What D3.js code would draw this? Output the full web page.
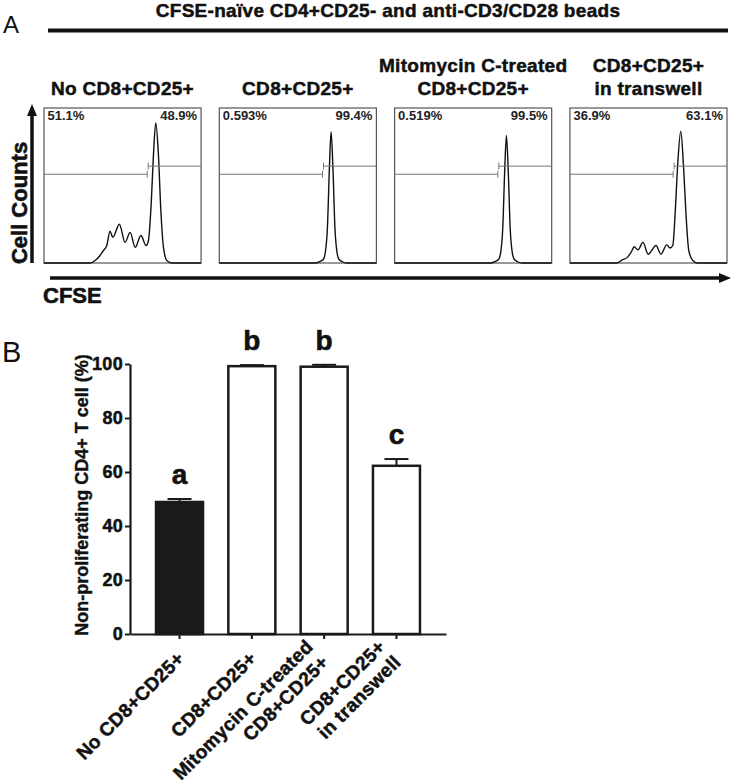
<!DOCTYPE html>
<html>
<head>
<meta charset="utf-8">
<script src="https://cdn.jsdelivr.net/npm/d3@7"></script>
<style>
  html, body { margin: 0; padding: 0; background: #fff; }
  svg { display: block; font-family: "Liberation Sans", Arial, Helvetica, sans-serif; }
</style>
</head>
<body>
<svg id="chart" width="732" height="783"></svg>
<script>
// ---------------- DATA ----------------
const mainTitle = "CFSE-naïve CD4+CD25- and anti-CD3/CD28 beads";
const panelTitles = [["No CD8+CD25+"], ["CD8+CD25+"], ["Mitomycin C-treated", "CD8+CD25+"], ["CD8+CD25+", "in transwell"]];
const leftPct = ["51.1%", "0.593%", "0.519%", "36.9%"];
const rightPct = ["48.9%", "99.4%", "99.5%", "63.1%"];

// CFSE histograms (channel 0-1023, cell counts)
const hist1Channel = [0, 300, 333, 365, 387, 409, 430, 448, 491, 528, 561, 594, 631, 665, 680, 698, 713, 728, 745, 761, 778, 800, 833, 1023];
const hist1Count   = [0, 0, 4, 12, 20, 28, 51, 41, 62, 33, 49, 25, 44, 28, 36, 94, 174, 224, 174, 84, 25, 4, 0, 0];
const hist2Channel = [0, 626, 652, 678, 691, 704, 717, 728, 740, 753, 766, 779, 802, 828, 1023];
const hist2Count   = [0, 0, 2, 6, 18, 56, 152, 210, 152, 56, 18, 6, 2, 0, 0];
const hist3Channel = [0, 626, 652, 678, 691, 704, 717, 728, 740, 753, 766, 779, 802, 828, 1023];
const hist3Count   = [0, 0, 2, 6, 17, 54, 148, 204, 148, 54, 17, 6, 2, 0, 0];
const hist4Channel = [0, 304, 341, 374, 398, 419, 443, 476, 509, 561, 593, 630, 652, 670, 685, 702, 722, 739, 756, 774, 800, 830, 1023];
const hist4Count   = [0, 0, 5, 9, 17, 26, 21, 33, 14, 28, 14, 29, 24, 28, 78, 158, 211, 158, 78, 20, 4, 0, 0];
const gateChannel = 672;
const gateLeftCount = 142;
const gateRightCount = 155;

// Bar chart
const barCategories = [["No CD8+CD25+"], ["CD8+CD25+"], ["Mitomycin C-treated", "CD8+CD25+"], ["CD8+CD25+", "in transwell"]];
const barValues = [48.9, 99.2, 99.0, 62.3];
const barErrors = [1.1, 0.4, 0.7, 2.5];
const barLetters = ["a", "b", "b", "c"];
const barFills = ["#1a1a1a", "#ffffff", "#ffffff", "#ffffff"];
const yTicks = [0, 20, 40, 60, 80, 100];
const yLabel = "Non-proliferating CD4+ T cell (%)";

// ---------------- DRAW ----------------
const svg = d3.select("#chart");
const FONT = "'Liberation Sans', Arial, Helvetica, sans-serif";
const INK = "#111";
function heavy(sel, w) {
  return sel.attr("stroke", INK).attr("stroke-width", w).attr("stroke-linejoin", "round").attr("paint-order", "stroke");
}

// Panel A header
svg.append("text").attr("x", 3).attr("y", 33).style("font-size", "24px").attr("fill", INK).text("A");
heavy(svg.append("text").attr("x", 388).attr("y", 17).attr("text-anchor", "middle")
  .style("font-size", "19px").style("font-weight", "bold").attr("letter-spacing", 0.3).attr("fill", INK).text(mainTitle), 0.5);
svg.append("line").attr("x1", 48).attr("x2", 728).attr("y1", 30.5).attr("y2", 30.5)
  .attr("stroke", INK).attr("stroke-width", 4);

// Histogram panels
const hists = [
  {ch: hist1Channel, ct: hist1Count},
  {ch: hist2Channel, ct: hist2Count},
  {ch: hist3Channel, ct: hist3Count},
  {ch: hist4Channel, ct: hist4Count}
];
const panelBand = d3.scaleBand().domain(d3.range(4)).range([44, 727]).paddingInner(0.104).paddingOuter(0);
const pTop = 108, pBottom = 263;
const pw = panelBand.bandwidth();
const xCh = d3.scaleLinear().domain([0, 1023]).range([0, pw]);
const yCt = d3.scaleLinear().domain([0, 248]).range([pBottom - pTop, 0]);

hists.forEach((h, i) => {
  const g = svg.append("g").attr("transform", `translate(${panelBand(i)},${pTop})`);
  g.append("rect").attr("x", 0).attr("y", 0).attr("width", pw).attr("height", pBottom - pTop)
    .attr("fill", "none").attr("stroke", "#555").attr("stroke-width", 1.2);
  const pts = h.ch.map((c, k) => [c, h.ct[k]]);
  const line = d3.line().x(d => xCh(d[0])).y(d => yCt(d[1])).curve(d3.curveMonotoneX);
  g.append("path").attr("d", line(pts)).attr("fill", "none").attr("stroke", INK).attr("stroke-width", 1.4);
  // gates
  const gx = xCh(gateChannel);
  const yl = yCt(gateLeftCount), yr = yCt(gateRightCount);
  g.append("line").attr("x1", 0).attr("x2", gx).attr("y1", yl).attr("y2", yl).attr("stroke", "#777").attr("stroke-width", 1);
  g.append("line").attr("x1", gx).attr("x2", gx).attr("y1", yl - 3.5).attr("y2", yl + 3.5).attr("stroke", "#777").attr("stroke-width", 1);
  g.append("line").attr("x1", gx + 1).attr("x2", pw).attr("y1", yr).attr("y2", yr).attr("stroke", "#777").attr("stroke-width", 1);
  g.append("line").attr("x1", gx + 1).attr("x2", gx + 1).attr("y1", yr - 3.5).attr("y2", yr + 3.5).attr("stroke", "#777").attr("stroke-width", 1);
  // percentages
  g.append("text").attr("x", 3.5).attr("y", 12).style("font-size", "13px").style("font-weight", "bold").attr("fill", "#222").text(leftPct[i]);
  g.append("text").attr("x", pw - 4).attr("y", 12).attr("text-anchor", "end").style("font-size", "13px").style("font-weight", "bold").attr("fill", "#222").text(rightPct[i]);
  // titles
  const lines = panelTitles[i];
  lines.forEach((t, k) => {
    heavy(svg.append("text").attr("x", panelBand(i) + pw / 2).attr("y", 95 - (lines.length - 1 - k) * 23)
      .attr("text-anchor", "middle").style("font-size", "19px").style("font-weight", "bold").attr("letter-spacing", 0.3)
      .attr("fill", INK).text(t), 0.5);
  });
});

// Cell Counts arrow
svg.append("line").attr("x1", 32).attr("x2", 32).attr("y1", 263).attr("y2", 114).attr("stroke", INK).attr("stroke-width", 3.5);
svg.append("path").attr("d", "M32,104 L27,116 L37,116 Z").attr("fill", INK);
heavy(svg.append("text").attr("transform", "translate(27,203) rotate(-90)").attr("text-anchor", "middle")
  .style("font-size", "22px").style("font-weight", "bold").attr("fill", INK).text("Cell Counts"), 0.6);
// CFSE arrow
svg.append("line").attr("x1", 50).attr("x2", 720).attr("y1", 278).attr("y2", 278).attr("stroke", INK).attr("stroke-width", 3.5);
svg.append("path").attr("d", "M731,278 L719,273 L719,283 Z").attr("fill", INK);
heavy(svg.append("text").attr("x", 43).attr("y", 303).style("font-size", "22px").style("font-weight", "bold").attr("fill", INK).text("CFSE"), 0.6);

// Panel B
svg.append("text").attr("x", 2).attr("y", 362).style("font-size", "29px").attr("fill", INK).text("B");

const x = d3.scaleBand().domain(d3.range(4)).range([130, 446]).paddingInner(0.35).paddingOuter(0.36);
const y = d3.scaleLinear().domain([0, 100]).range([634, 364]);

const gB = svg.append("g");
// bars
gB.selectAll("rect.bar").data(barValues).join("rect").attr("class", "bar")
  .attr("x", (d, i) => x(i)).attr("y", d => y(d)).attr("width", x.bandwidth()).attr("height", d => y(0) - y(d))
  .attr("fill", (d, i) => barFills[i]).attr("stroke", "#1a1a1a").attr("stroke-width", 2.5);
// error bars (upper)
barValues.forEach((v, i) => {
  const cx = x(i) + x.bandwidth() / 2;
  gB.append("line").attr("x1", cx).attr("x2", cx).attr("y1", y(v)).attr("y2", y(v + barErrors[i])).attr("stroke", "#1a1a1a").attr("stroke-width", 2);
  gB.append("line").attr("x1", cx - 12).attr("x2", cx + 12).attr("y1", y(v + barErrors[i])).attr("y2", y(v + barErrors[i])).attr("stroke", "#1a1a1a").attr("stroke-width", 2);
  heavy(gB.append("text").attr("x", cx).attr("y", y(v + barErrors[i]) - 15).attr("text-anchor", "middle")
    .style("font-size", "28px").style("font-weight", "bold").attr("fill", INK).text(barLetters[i]), 0.6);
});

// y axis
const yAxis = d3.axisLeft(y).tickValues(yTicks).tickSize(5).tickPadding(2).tickSizeOuter(0);
const gy = svg.append("g").attr("transform", "translate(130,0)").call(yAxis);
gy.attr("font-size", null).attr("font-family", null);
gy.select(".domain").attr("stroke", "#1a1a1a").attr("stroke-width", 2.2);
gy.selectAll(".tick line").attr("stroke", "#1a1a1a").attr("stroke-width", 2);
heavy(gy.selectAll(".tick text").style("font-size", "18px").style("font-weight", "bold").attr("letter-spacing", 0.3)
  .style("font-family", FONT).attr("fill", INK), 0.5);

// x axis
const xAxis = d3.axisBottom(x).tickSize(5).tickSizeOuter(0).tickFormat(() => "");
const gx = svg.append("g").attr("transform", "translate(0,634)").call(xAxis);
gx.select(".domain").attr("stroke", "#1a1a1a").attr("stroke-width", 2.2);
gx.selectAll(".tick line").attr("stroke", "#1a1a1a").attr("stroke-width", 2);

// x labels (rotated)
barCategories.forEach((lines, i) => {
  const cx = x(i) + x.bandwidth() / 2;
  const n = lines.length;
  const ax = n > 1 ? cx - 7 : cx + 1;
  const ay = n > 1 ? 651 : 655;
  const g = svg.append("g").attr("transform", `translate(${ax},${ay}) rotate(-45)`);
  lines.forEach((t, k) => {
    heavy(g.append("text").attr("x", 0).attr("y", (k - (n - 1) / 2) * 22).attr("dy", "0.35em")
      .attr("text-anchor", "end").style("font-size", "19px").style("font-weight", "bold").attr("letter-spacing", 0.3)
      .attr("fill", INK).text(t), 0.5);
  });
});

// y label
heavy(svg.append("text").attr("transform", "translate(88,495) rotate(-90)").attr("text-anchor", "middle")
  .style("font-size", "18px").style("font-weight", "bold").attr("fill", INK).text(yLabel), 0.4);
</script>
</body>
</html>
